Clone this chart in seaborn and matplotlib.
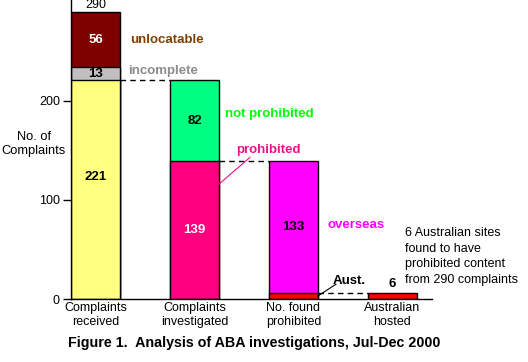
import numpy as np
import matplotlib.pyplot as plt
import seaborn as sns
import pandas as pd

plt.rcParams['font.family'] = ['Liberation Sans', 'DejaVu Sans']

categories = ['Complaints\nreceived', 'Complaints\ninvestigated',
              'No. found\nprohibited', 'Australian\nhosted']

# stacked segments per column, bottom to top
received = [221, 13, 56]
investigated = [139, 82]
found = [6, 133]
hosted = [6]

received_colors = ['#FFFF80', '#C0C0C0', '#800000']
investigated_colors = ['#FF0080', '#00FF80']
found_colors = ['#FF0000', '#FF00FF']
hosted_colors = ['#FF0000']

total_received = 290
title = 'Figure 1.  Analysis of ABA investigations, Jul-Dec 2000'
note = '6 Australian sites\nfound to have\nprohibited content\nfrom 290 complaints'

rows = []
for cat, vals, cols in zip(categories,
                           [received, investigated, found, hosted],
                           [received_colors, investigated_colors, found_colors, hosted_colors]):
    bottom = 0
    for lvl, (v, c) in enumerate(zip(vals, cols)):
        rows.append(dict(cat=cat, level=lvl, value=v, color=c,
                         bottom=bottom, top=bottom + v))
        bottom += v
df = pd.DataFrame(rows)
totals = df.groupby('cat', sort=False)['top'].max().reindex(categories).values

W = 0.495
fig = plt.figure(figsize=(5.28, 3.62), dpi=100)
ax = fig.add_axes([71 / 528, 1 - 299 / 362, 361 / 528, 299 / 362])

# draw the cumulative tops from the highest level down so lower ones cover
for lvl in sorted(df['level'].unique(), reverse=True):
    sub = df[df['level'] == lvl]
    sns.barplot(data=sub, x='cat', y='top', hue='cat', order=categories,
                palette=dict(zip(sub['cat'], sub['color'])), legend=False,
                width=W, edgecolor='black', linewidth=1, saturation=1, ax=ax)

# numbers inside segments
for _, r in df.iterrows():
    if r['value'] < 10:
        continue
    i = categories.index(r['cat'])
    mid = (r['bottom'] + r['top']) / 2
    if r['value'] == 221:
        mid = 123
    col = 'white' if r['color'] in ('#800000', '#FF0080') else 'black'
    ax.text(i, mid, str(r['value']), ha='center', va='center',
            fontsize=9.5, fontweight='bold', color=col)

ax.text(0, total_received + 1, str(total_received), ha='center', va='bottom', fontsize=9)
ax.text(3, hosted[0] + 3, str(hosted[0]), ha='center', va='bottom',
        fontsize=9.5, fontweight='bold')

# dashed connectors
for i in range(len(categories) - 1):
    ax.hlines(totals[i + 1], i + W / 2, i + 1 - W / 2, colors='black',
              linestyles=(0, (4, 3)), linewidth=1)

# segment names
lab = dict(fontsize=9.5, fontweight='bold', va='center')
ax.text(0.35, 262, 'unlocatable', color='#804000', **lab)
ax.text(0.33, 230, 'incomplete', color='#8C8C8C', **lab)
ax.text(1.31, 187, 'not prohibited', color='#00FF00', **lab)
ax.text(1.42, 150.5, 'prohibited', color='#F0108A', **lab)
ax.plot([1 + W / 2, 1.56], [116, 143], color='#F0108A', linewidth=0.8)
ax.text(2.34, 75, 'overseas', color='#FF00FF', **lab)
ax.text(2.40, 18, 'Aust.', color='black', **lab)
ax.plot([2 + W / 2, 2.43], [3, 15], color='black', linewidth=0.8)
ax.text(3.13, 43, note, fontsize=9, va='center', ha='left', linespacing=1.4)

ax.set_xlim(-W / 2, 3.40)
ax.set_ylim(0, 302)
ax.set_yticks([0, 100, 200])
ax.tick_params(axis='y', length=6, width=1, labelsize=9, pad=2)
ax.tick_params(axis='x', length=0, labelsize=9, pad=2)
for t in ax.get_xticklabels():
    t.set_linespacing(1.3)
ax.set_xlabel('')
ax.set_ylabel('No. of\nComplaints', rotation=0, fontsize=9.3, ha='center', va='center')
ax.yaxis.set_label_coords(-0.103, 0.518)
for s in ['top', 'right']:
    ax.spines[s].set_visible(False)
for s in ['left', 'bottom']:
    ax.spines[s].set_linewidth(1)
ax.patch.set_visible(False)

fig.text(254 / 528, 1 - 343 / 362, title, ha='center', va='center',
         fontsize=10.3, fontweight='bold')

fig.savefig('out.png', dpi=100)
